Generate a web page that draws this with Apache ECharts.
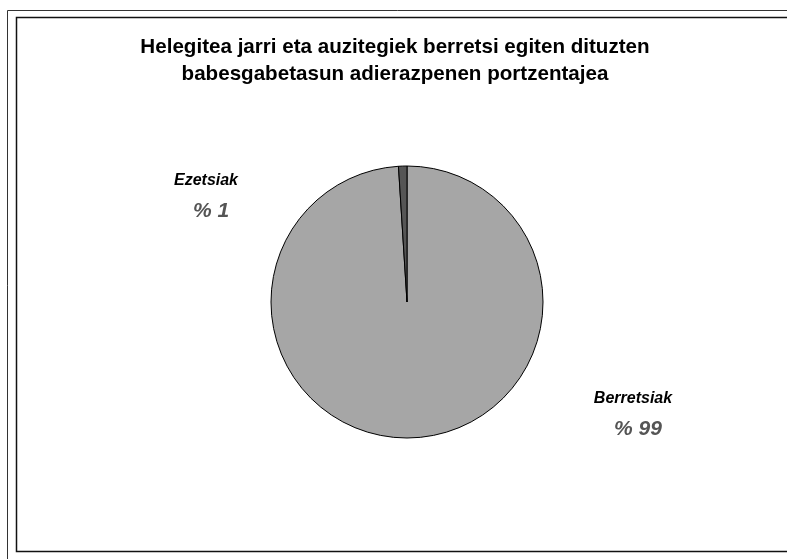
<!DOCTYPE html>
<html>
<head>
<meta charset="utf-8">
<script src="https://cdn.jsdelivr.net/npm/echarts@6/dist/echarts.min.js"></script>
<style>
  html, body { margin: 0; padding: 0; background: #ffffff; }
  #chart { width: 787px; height: 559px; }
</style>
</head>
<body>
<div id="chart"></div>
<script>
// Appeals: share of protection declarations confirmed vs. rejected by the courts
const titleLines = [
  'Helegitea jarri eta auzitegiek berretsi egiten dituzten',
  'babesgabetasun adierazpenen portzentajea'
];
const categories = ['Berretsiak', 'Ezetsiak'];
const percents = [99, 1];
const sliceColors = ['#a6a6a6', '#555555'];

// label anchor points (pixels) for each category
const labelSpots = { Berretsiak: [633, 415], Ezetsiak: [206, 197] };

const chart = echarts.init(document.getElementById('chart'));
const font = '"Liberation Sans", Arial, Helvetica, sans-serif';

chart.setOption({
  animation: false,
  backgroundColor: '#ffffff',
  title: {
    text: titleLines.join('\n'),
    left: 390,
    top: 29,
    textAlign: 'center',
    textStyle: {
      fontFamily: font,
      fontWeight: 'bold',
      fontSize: 20.6,
      lineHeight: 27,
      color: '#000000'
    }
  },
  graphic: [
    {
      type: 'rect',
      shape: { x: 7.5, y: 10.5, width: 800, height: 600 },
      style: { fill: 'none', stroke: '#333333', lineWidth: 1 },
      silent: true
    },
    {
      type: 'rect',
      shape: { x: 16.5, y: 17.5, width: 800, height: 534 },
      style: { fill: 'none', stroke: '#111111', lineWidth: 1.5 },
      silent: true
    }
  ],
  series: [{
    type: 'pie',
    center: [407, 302],
    radius: 136,
    startAngle: 90,
    clockwise: true,
    avoidLabelOverlap: false,
    itemStyle: { borderColor: '#000000', borderWidth: 1 },
    labelLine: { show: false },
    label: {
      show: true,
      position: 'outside',
      fontFamily: font,
      align: 'center',
      formatter: p => '{n|' + p.name + '}\n{v|% ' + p.value + '}',
      rich: {
        n: { fontFamily: font, fontWeight: 'bold', fontStyle: 'italic', fontSize: 16, color: '#000000', lineHeight: 28, align: 'center' },
        v: { fontFamily: font, fontWeight: 'bold', fontStyle: 'italic', fontSize: 21, color: '#555555', lineHeight: 32, align: 'center', padding: [0, 0, 0, 10] }
      }
    },
    labelLayout: params => {
      const name = categories[params.dataIndex];
      const spot = labelSpots[name];
      return { x: spot[0], y: spot[1], align: 'center', verticalAlign: 'middle' };
    },
    data: categories.map((c, i) => ({
      name: c,
      value: percents[i],
      itemStyle: { color: sliceColors[i] }
    }))
  }]
});
</script>
</body>
</html>
